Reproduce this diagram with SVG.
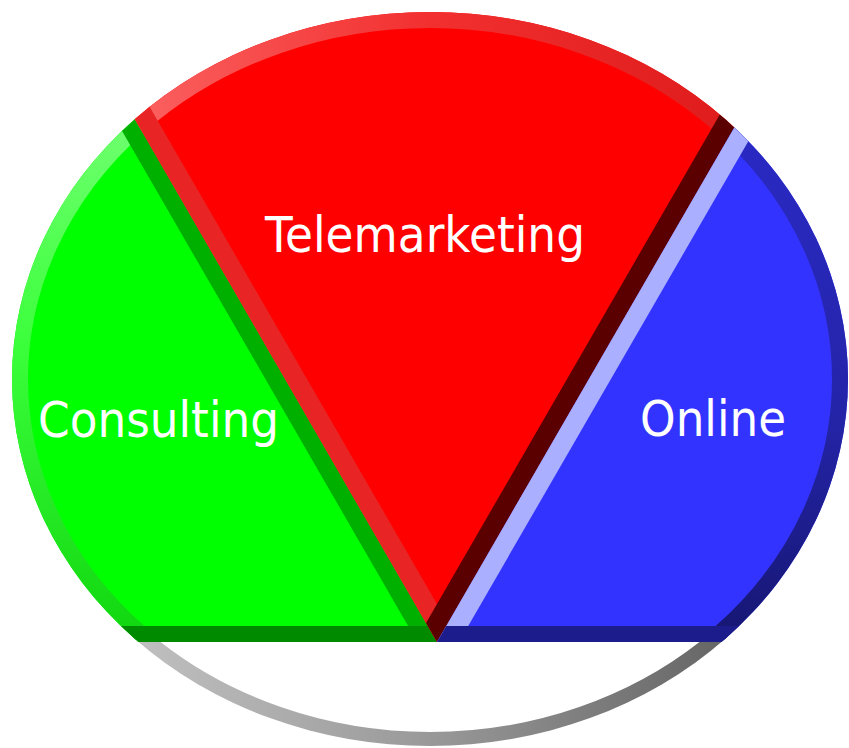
<svg xmlns="http://www.w3.org/2000/svg" width="849" height="748" viewBox="0 0 849 748">
  <style>
    .lbl { font-family: "DejaVu Sans", "Liberation Sans", sans-serif; font-size: 49px; fill: #ffffff; }
  </style>
  <defs>
    <clipPath id="ell"><ellipse cx="430" cy="379" rx="418" ry="367"/></clipPath>
    <clipPath id="cGreen"><polygon points="437,642 66,0 0,0 0,642"/></clipPath>
    <clipPath id="cRed"><polygon points="437,642 66,0 808,0"/></clipPath>
    <clipPath id="cBlue"><polygon points="437,642 808,0 849,0 849,642"/></clipPath>
    <clipPath id="cBottom"><rect x="0" y="642" width="849" height="106"/></clipPath>
    <linearGradient id="gArcGreen" x1="0" y1="0" x2="0" y2="1">
      <stop offset="0" stop-color="#88ff88"/>
      <stop offset="0.45" stop-color="#3cff3c"/>
      <stop offset="1" stop-color="#00c800"/>
    </linearGradient>
    <linearGradient id="gArcRed" x1="0" y1="0" x2="1" y2="0">
      <stop offset="0" stop-color="#ff7474"/>
      <stop offset="0.5" stop-color="#f23030"/>
      <stop offset="1" stop-color="#d81414"/>
    </linearGradient>
    <linearGradient id="gArcBlue" x1="0" y1="0" x2="0" y2="1">
      <stop offset="0" stop-color="#2c2cd0"/>
      <stop offset="0.55" stop-color="#2424a8"/>
      <stop offset="1" stop-color="#10105a"/>
    </linearGradient>
    <linearGradient id="gRim" x1="0" y1="0" x2="1" y2="0">
      <stop offset="0" stop-color="#d0d0d0"/>
      <stop offset="0.5" stop-color="#999999"/>
      <stop offset="1" stop-color="#505050"/>
    </linearGradient>
  </defs>

  <rect x="0" y="0" width="849" height="748" fill="#ffffff"/>

  <g clip-path="url(#ell)">
    <g id="base" clip-path="url(#cBottom)">
      <rect x="0" y="642" width="849" height="106" fill="#ffffff"/>
      <ellipse cx="430" cy="379" rx="418" ry="367" fill="none" stroke="url(#gRim)" stroke-width="28"/>
    </g>

    <g id="consulting">
      <g clip-path="url(#cGreen)">
        <rect x="0" y="0" width="849" height="748" fill="#00ff00"/>
        <ellipse cx="430" cy="379" rx="418" ry="367" fill="none" stroke="url(#gArcGreen)" stroke-width="32"/>
        <line x1="437" y1="642" x2="66" y2="0" stroke="#00b000" stroke-width="34"/>
        <line x1="0" y1="642" x2="440" y2="642" stroke="#008a00" stroke-width="32"/>
      </g>
      <text class="lbl" x="38" y="437" textLength="241" lengthAdjust="spacingAndGlyphs">Consulting</text>
    </g>

    <g id="telemarketing">
      <g clip-path="url(#cRed)">
        <rect x="0" y="0" width="849" height="748" fill="#ff0000"/>
        <ellipse cx="430" cy="379" rx="418" ry="367" fill="none" stroke="url(#gArcRed)" stroke-width="32"/>
        <line x1="437" y1="642" x2="66" y2="0" stroke="#e82424" stroke-width="38"/>
        <line x1="437" y1="642" x2="808" y2="0" stroke="#5a0000" stroke-width="38"/>
      </g>
      <text class="lbl" x="265" y="252" textLength="320" lengthAdjust="spacingAndGlyphs">Telemarketing</text>
    </g>

    <g id="online">
      <g clip-path="url(#cBlue)">
        <rect x="0" y="0" width="849" height="748" fill="#3333ff"/>
        <ellipse cx="430" cy="379" rx="418" ry="367" fill="none" stroke="url(#gArcBlue)" stroke-width="32"/>
        <line x1="437" y1="642" x2="808" y2="0" stroke="#aab0ff" stroke-width="38"/>
        <line x1="430" y1="642" x2="849" y2="642" stroke="#1c1c8c" stroke-width="32"/>
      </g>
      <text class="lbl" x="640" y="436" textLength="146" lengthAdjust="spacingAndGlyphs">Online</text>
    </g>
  </g>
</svg>
